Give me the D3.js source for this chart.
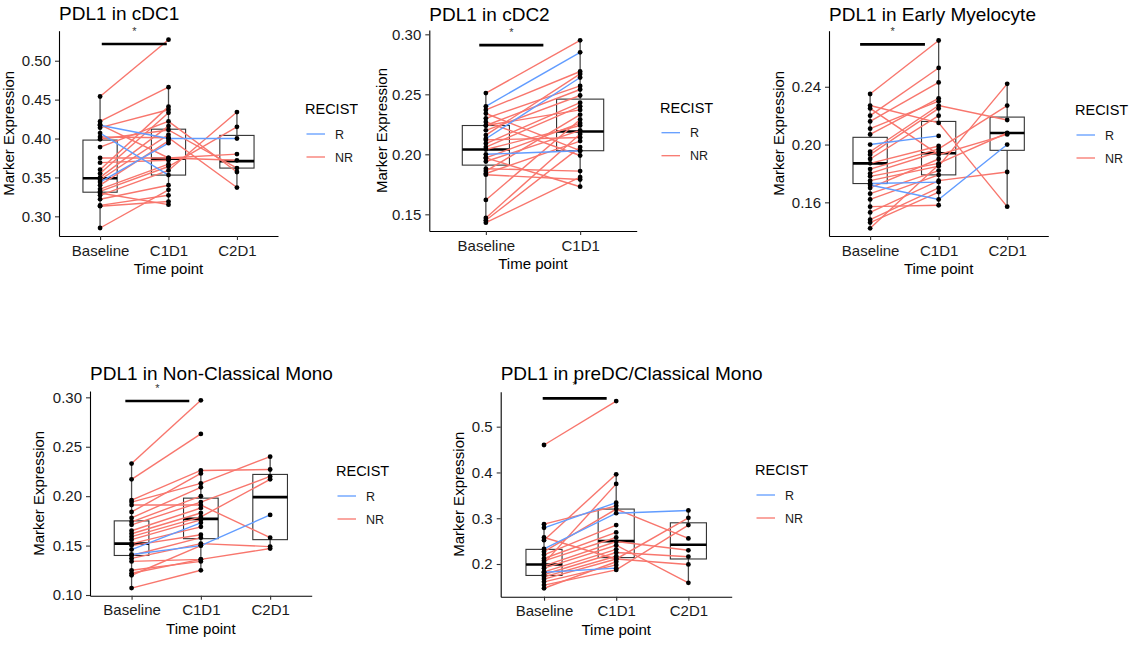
<!DOCTYPE html>
<html>
<head>
<meta charset="utf-8">
<script src="https://cdn.jsdelivr.net/npm/d3@7"></script>
<style>
  body { margin: 0; background: #fff; }
  svg { display: block; font-family: "Liberation Sans", Arial, sans-serif; }
</style>
</head>
<body>
<svg id="chart" width="1138" height="648"></svg>
<script>
// shared categories
const timePoints = ["Baseline", "C1D1", "C2D1"];
const respGroups = ["R", "NR"];
const respColors = ["#619CFF", "#F8766D"];

// PDL1 in cDC1 (one entry per patient, null = no sample)
const cdc1Base = [0.417, 0.407, 0.344, 0.454, 0.422, 0.418, 0.414, 0.402, 0.399, 0.389, 0.375, 0.369, 0.360, 0.355, 0.350, 0.347, 0.340, 0.335, 0.332, 0.327, 0.322, 0.314, 0.313, 0.330, 0.285];
const cdc1C1   = [0.400, 0.353, 0.394, 0.527, 0.466, 0.375, 0.437, 0.401, 0.411, 0.422, 0.375, 0.372, 0.441, 0.433, 0.416, 0.405, 0.397, 0.367, 0.364, 0.359, 0.340, 0.327, 0.319, 0.315, 0.334];
const cdc1C2   = [0.400, null, null, null, null, 0.372, null, 0.337, 0.362, 0.357, 0.380, null, null, null, null, null, null, null, 0.415, 0.434, null, null, null, null, null];
const cdc1Resp = ["R", "R", "R", "NR", "NR", "NR", "NR", "NR", "NR", "NR", "NR", "NR", "NR", "NR", "NR", "NR", "NR", "NR", "NR", "NR", "NR", "NR", "NR", "NR", "NR"];
const cdc1Box  = [[0.285, 0.331, 0.349, 0.398, 0.454], [0.315, 0.353, 0.374, 0.412, 0.466], [0.337, 0.362, 0.371, 0.404, 0.434]];
const cdc1Ticks = [0.30, 0.35, 0.40, 0.45, 0.50];

// PDL1 in cDC2
const cdc2Base = [0.240, 0.213, 0.200, 0.251, 0.237, 0.234, 0.230, 0.227, 0.224, 0.224, 0.220, 0.216, 0.212, 0.209, 0.206, 0.204, 0.197, 0.197, 0.194, 0.188, 0.186, 0.184, 0.183, 0.162, 0.147, 0.145, 0.143];
const cdc2C1   = [0.285, 0.264, 0.203, 0.295, 0.269, 0.203, 0.257, 0.199, 0.254, 0.237, 0.249, 0.267, 0.214, 0.243, 0.240, 0.224, 0.226, 0.173, 0.220, 0.186, 0.233, 0.211, 0.179, 0.229, 0.217, 0.206, 0.181];
const cdc2Resp = ["R", "R", "R", "NR", "NR", "NR", "NR", "NR", "NR", "NR", "NR", "NR", "NR", "NR", "NR", "NR", "NR", "NR", "NR", "NR", "NR", "NR", "NR", "NR", "NR", "NR", "NR"];
const cdc2Box  = [[0.143, 0.191, 0.204, 0.224, 0.251], [0.172, 0.203, 0.219, 0.246, 0.295]];
const cdc2Ticks = [0.15, 0.20, 0.25, 0.30];

// PDL1 in Early Myelocyte
const myeBase = [0.200, 0.173, 0.172, 0.235, 0.227, 0.225, 0.220, 0.216, 0.211, 0.207, 0.195, 0.193, 0.190, 0.187, 0.183, 0.180, 0.178, 0.175, 0.170, 0.166, 0.162, 0.157, 0.153, 0.148, 0.146, 0.142];
const myeC1   = [0.206, 0.174, 0.162, 0.272, 0.215, 0.193, 0.253, 0.243, 0.230, 0.232, 0.227, 0.225, 0.220, 0.199, 0.197, 0.195, 0.187, 0.185, 0.190, 0.182, 0.179, 0.158, 0.175, 0.170, 0.167, 0.186];
const myeC2   = [null, null, 0.200, null, 0.157, 0.207, null, null, null, null, 0.217, null, null, null, 0.227, null, 0.208, 0.242, null, null, null, null, 0.181, null, null, null];
const myeResp = ["R", "R", "R", "NR", "NR", "NR", "NR", "NR", "NR", "NR", "NR", "NR", "NR", "NR", "NR", "NR", "NR", "NR", "NR", "NR", "NR", "NR", "NR", "NR", "NR", "NR"];
const myeBox  = [[0.142, 0.173, 0.187, 0.205, 0.235], [0.158, 0.179, 0.194, 0.216, 0.272], [0.157, 0.196, 0.208, 0.219, 0.242]];
const myeTicks = [0.16, 0.20, 0.24];

// PDL1 in Non-Classical Mono
const ncmBase = [0.146, 0.141, 0.233, 0.217, 0.196, 0.194, 0.191, 0.184, 0.178, 0.174, 0.171, 0.165, 0.162, 0.159, 0.156, 0.152, 0.150, 0.140, 0.137, 0.134, 0.125, 0.122, 0.120, 0.107];
const ncmC1   = [0.173, 0.150, 0.297, 0.263, 0.226, 0.213, 0.191, 0.223, 0.209, 0.200, 0.194, 0.188, 0.183, 0.179, 0.176, 0.169, 0.161, 0.158, 0.152, 0.136, 0.134, 0.136, 0.150, 0.125];
const ncmC2   = [null, 0.181, null, null, 0.227, 0.240, 0.158, null, null, null, 0.220, null, null, 0.217, null, null, null, null, 0.149, 0.147, null, null, null, null];
const ncmResp = ["R", "R", "NR", "NR", "NR", "NR", "NR", "NR", "NR", "NR", "NR", "NR", "NR", "NR", "NR", "NR", "NR", "NR", "NR", "NR", "NR", "NR", "NR", "NR"];
const ncmBox  = [[0.107, 0.140, 0.152, 0.175, 0.233], [0.125, 0.157, 0.177, 0.198, 0.226], [0.147, 0.156, 0.199, 0.222, 0.240]];
const ncmTicks = [0.10, 0.15, 0.20, 0.25, 0.30];

// PDL1 in preDC/Classical Mono
const predcBase = [0.279, 0.233, 0.182, 0.460, 0.287, 0.258, 0.252, 0.227, 0.220, 0.212, 0.207, 0.202, 0.196, 0.191, 0.183, 0.177, 0.172, 0.167, 0.161, 0.154, 0.147];
const predcC1   = [0.334, 0.311, 0.191, 0.556, 0.327, 0.211, 0.396, 0.320, 0.285, 0.269, 0.258, 0.375, 0.249, 0.241, 0.232, 0.225, 0.217, 0.211, 0.198, 0.187, 0.205];
const predcC2   = [null, 0.317, null, null, null, 0.199, null, 0.256, null, null, null, null, 0.230, 0.159, null, 0.216, null, 0.301, null, 0.285, null];
const predcResp = ["R", "R", "R", "NR", "NR", "NR", "NR", "NR", "NR", "NR", "NR", "NR", "NR", "NR", "NR", "NR", "NR", "NR", "NR", "NR", "NR"];
const predcBox  = [[0.147, 0.175, 0.199, 0.232, 0.287], [0.187, 0.214, 0.250, 0.320, 0.396], [0.159, 0.211, 0.242, 0.290, 0.317]];
const predcTicks = [0.2, 0.3, 0.4, 0.5];

// significance brackets: [start, end] in category steps from Baseline, height in data units
const cdc1Sig  = [0.025, 0.975, 0.5215];
const cdc2Sig  = [-0.07, 0.61, 0.291];
const myeSig   = [-0.146, 0.80, 0.2693];
const ncmSig   = [-0.09, 0.833, 0.2963];
const predcSig = [-0.018, 0.868, 0.562];

// layout of the five panels
const panels = [
  { title: "PDL1 in cDC1", base: cdc1Base, c1: cdc1C1, c2: cdc1C2, resp: cdc1Resp, box: cdc1Box, ticks: cdc1Ticks, fmt: ".2f", sig: cdc1Sig,
    left: 59, right: 278, top: 30.7, bottom: 236, yDomain: [0.2747, 0.5386], titleY: 20, yTitleX: 14, legX: 305, legY: 114, clipRight: 358 },
  { title: "PDL1 in cDC2", base: cdc2Base, c1: cdc2C1, c2: null, resp: cdc2Resp, box: cdc2Box, ticks: cdc2Ticks, fmt: ".2f", sig: cdc2Sig,
    left: 429.3, right: 636.7, top: 30, bottom: 231, yDomain: [0.1361, 0.3036], titleY: 20.7, yTitleX: 387, legX: 660, legY: 112.7 },
  { title: "PDL1 in Early Myelocyte", base: myeBase, c1: myeC1, c2: myeC2, resp: myeResp, box: myeBox, ticks: myeTicks, fmt: ".2f", sig: myeSig,
    left: 829, right: 1048.3, top: 30.7, bottom: 236, yDomain: [0.1367, 0.2788], titleY: 20.7, yTitleX: 783.7, legX: 1075, legY: 115 },
  { title: "PDL1 in Non-Classical Mono", base: ncmBase, c1: ncmC1, c2: ncmC2, resp: ncmResp, box: ncmBox, ticks: ncmTicks, fmt: ".2f", sig: ncmSig,
    left: 90, right: 311.7, top: 391, bottom: 595.7, yDomain: [0.0993, 0.3064], titleY: 380.3, yTitleX: 43.7, legX: 336, legY: 476 },
  { title: "PDL1 in preDC/Classical Mono", base: predcBase, c1: predcC1, c2: predcC2, resp: predcResp, box: predcBox, ticks: predcTicks, fmt: ".1f", sig: predcSig,
    left: 500.7, right: 731.7, top: 391.7, bottom: 596.7, yDomain: [0.1286, 0.5764], titleY: 380.3, yTitleX: 463.7, legX: 755, legY: 475 }
];

const svg = d3.select("#chart");
const color = d3.scaleOrdinal().domain(respGroups).range(respColors);

panels.forEach((p, pi) => {
  const cats = timePoints.slice(0, p.box.length);
  const x = d3.scalePoint().domain(cats).range([p.left, p.right]).padding(0.6);
  const y = d3.scaleLinear().domain(p.yDomain).range([p.bottom, p.top]);
  const g = svg.append("g");

  if (p.clipRight) {
    svg.append("clipPath").attr("id", "clip" + pi)
      .append("rect").attr("x", 0).attr("y", 0).attr("width", p.clipRight).attr("height", 648);
    g.attr("clip-path", `url(#clip${pi})`);
  }

  // boxes
  const boxW = x.step() * 0.5;
  p.box.forEach((b, i) => {
    const cx = x(cats[i]);
    g.append("line").attr("x1", cx).attr("x2", cx).attr("y1", y(b[0])).attr("y2", y(b[1]))
      .attr("stroke", "#4d4d4d").attr("stroke-width", 1.3);
    g.append("line").attr("x1", cx).attr("x2", cx).attr("y1", y(b[3])).attr("y2", y(b[4]))
      .attr("stroke", "#4d4d4d").attr("stroke-width", 1.3);
    g.append("rect").attr("x", cx - boxW / 2).attr("y", y(b[3]))
      .attr("width", boxW).attr("height", y(b[1]) - y(b[3]))
      .attr("fill", "none").attr("stroke", "#333").attr("stroke-width", 1.1);
    g.append("line").attr("x1", cx - boxW / 2).attr("x2", cx + boxW / 2)
      .attr("y1", y(b[2])).attr("y2", y(b[2]))
      .attr("stroke", "#000").attr("stroke-width", 2.6);
  });

  // one path per patient
  const patients = p.base.map((v, i) => ({
    resp: p.resp[i],
    pts: [v, p.c1[i], p.c2 ? p.c2[i] : null]
      .map((val, t) => ({ t: timePoints[t], v: val }))
      .filter(d => d.v != null && cats.includes(d.t))
  }));
  const line = d3.line().x(d => x(d.t)).y(d => y(d.v));
  const ordered = patients.filter(d => d.resp === "NR").concat(patients.filter(d => d.resp === "R"));
  g.selectAll(".pat").data(ordered).join("path")
    .attr("d", d => line(d.pts))
    .attr("fill", "none")
    .attr("stroke", d => color(d.resp))
    .attr("stroke-width", 1.4);

  // points
  const allPts = patients.flatMap(d => d.pts);
  g.selectAll(".pt").data(allPts).join("circle")
    .attr("cx", d => x(d.t)).attr("cy", d => y(d.v)).attr("r", 2.4)
    .attr("fill", "#000");

  // significance bracket
  const x0 = x(cats[0]) + p.sig[0] * x.step();
  const x1 = x(cats[0]) + p.sig[1] * x.step();
  g.append("line").attr("x1", x0).attr("x2", x1).attr("y1", y(p.sig[2])).attr("y2", y(p.sig[2]))
    .attr("stroke", "#000").attr("stroke-width", 2.7);
  g.append("text").attr("x", (x0 + x1) / 2).attr("y", y(p.sig[2]) - 9)
    .attr("text-anchor", "middle").attr("font-size", 11).attr("fill", "#333").text("*");

  // axes
  const yAxis = d3.axisLeft(y).tickValues(p.ticks).tickFormat(d3.format(p.fmt))
    .tickSize(4).tickPadding(4).tickSizeOuter(0);
  const xAxis = d3.axisBottom(x).tickSize(4).tickPadding(5).tickSizeOuter(0);
  const ya = g.append("g").attr("transform", `translate(${p.left},0)`).call(yAxis);
  const xa = g.append("g").attr("transform", `translate(0,${p.bottom})`).call(xAxis);
  [ya, xa].forEach(a => {
    a.attr("font-family", null).attr("font-size", null);
    a.select(".domain").attr("stroke", "#000").attr("stroke-width", 1.1);
    a.selectAll(".tick line").attr("stroke", "#333").attr("stroke-width", 1.1);
    a.selectAll(".tick text").attr("font-size", 15).attr("fill", "#1a1a1a");
  });

  // titles
  g.append("text").attr("x", p.left).attr("y", p.titleY)
    .attr("font-size", 19).attr("fill", "#000").text(p.title);
  g.append("text").attr("x", (p.left + p.right) / 2).attr("y", p.bottom + 38)
    .attr("text-anchor", "middle").attr("font-size", 15).attr("fill", "#000").text("Time point");
  g.append("text")
    .attr("transform", `translate(${p.yTitleX},${(p.top + p.bottom) / 2}) rotate(-90)`)
    .attr("text-anchor", "middle").attr("font-size", 15).attr("fill", "#000").text("Marker Expression");

  // legend
  const leg = g.append("g").attr("transform", `translate(${p.legX},${p.legY})`);
  leg.append("text").attr("x", 0).attr("y", 0).attr("font-size", 14.5).attr("fill", "#000").text("RECIST");
  respGroups.forEach((r, i) => {
    const ky = 20 + i * 23;
    leg.append("line").attr("x1", 1.5).attr("x2", 20).attr("y1", ky).attr("y2", ky)
      .attr("stroke", color(r)).attr("stroke-width", 1.3);
    leg.append("text").attr("x", 30).attr("y", ky).attr("dy", "0.36em")
      .attr("font-size", 12.5).attr("fill", "#1a1a1a").text(r);
  });
});
</script>
</body>
</html>
